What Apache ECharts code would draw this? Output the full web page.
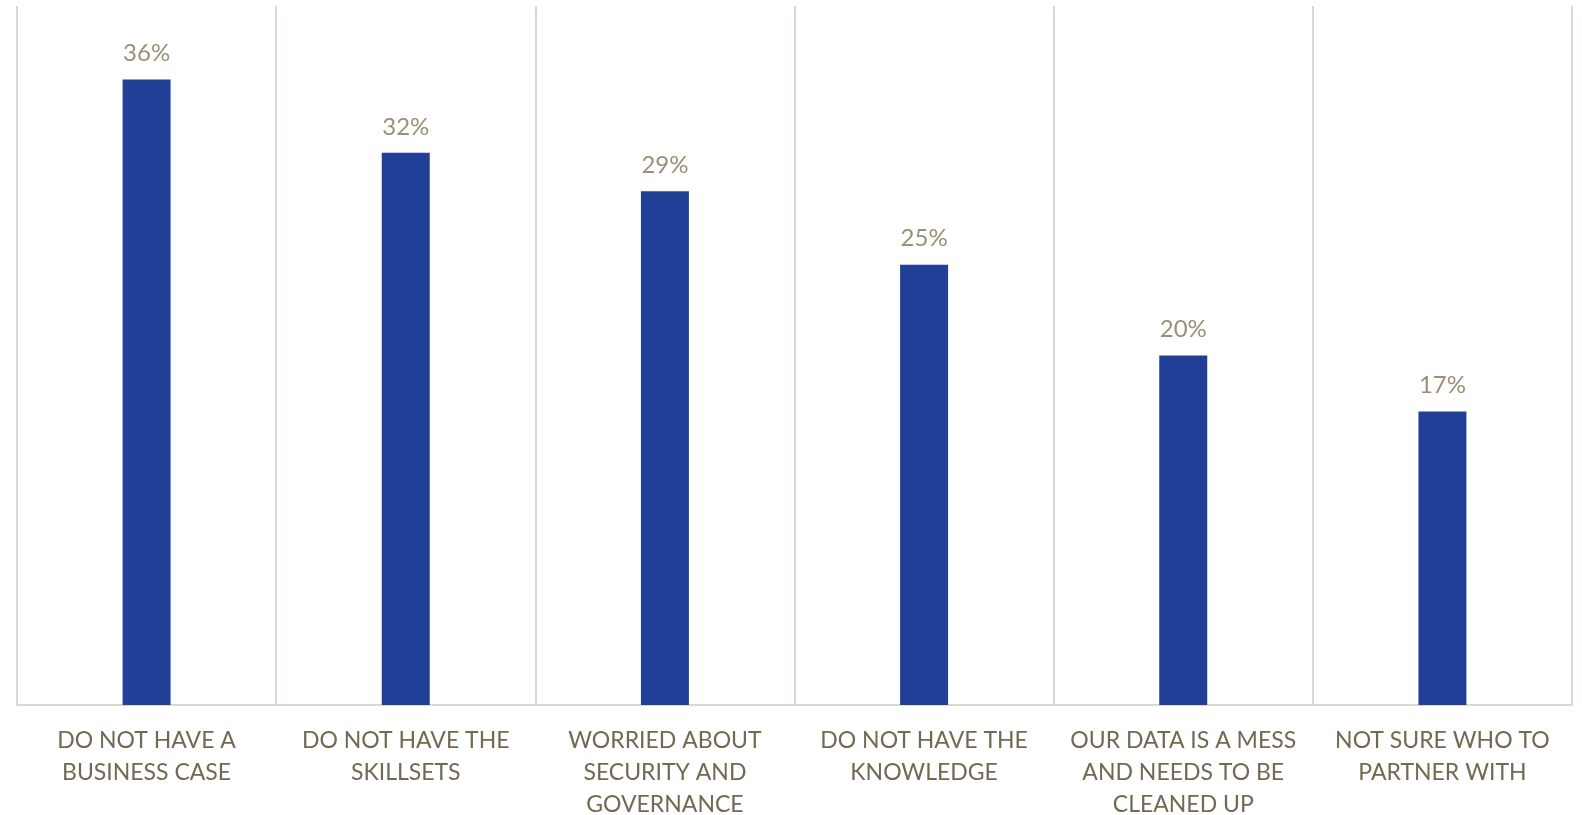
<!DOCTYPE html>
<html>
<head>
<meta charset="utf-8">
<script src="https://cdn.jsdelivr.net/npm/echarts@6/dist/echarts.min.js"></script>
<style>
html,body{margin:0;padding:0;background:#fff;}
#chart{width:1582px;height:815px;}
</style>
</head>
<body>
<div id="chart"></div>
<script>
const categories = [
  "DO NOT HAVE A\nBUSINESS CASE",
  "DO NOT HAVE THE\nSKILLSETS",
  "WORRIED ABOUT\nSECURITY AND\nGOVERNANCE",
  "DO NOT HAVE THE\nKNOWLEDGE",
  "OUR DATA IS A MESS\nAND NEEDS TO BE\nCLEANED UP",
  "NOT SURE WHO TO\nPARTNER WITH"
];
const values = [35.8, 31.6, 29.4, 25.2, 20.0, 16.8];

const FONT = "Lato, 'Open Sans', sans-serif";
const chart = echarts.init(document.getElementById('chart'), null, {renderer: 'canvas'});
chart.setOption({
  animation: false,
  backgroundColor: '#ffffff',
  grid: {left: 17, right: 10, top: 6, bottom: 110, containLabel: false, outerBoundsMode: 'none'},
  xAxis: {
    type: 'category',
    data: categories,
    boundaryGap: true,
    axisLine: {show: true, lineStyle: {color: '#dcd8cf', width: 2}},
    axisTick: {show: false},
    splitLine: {show: true, interval: 0, lineStyle: {color: '#dcd8cf', width: 2}},
    axisLabel: {
      interval: 0,
      color: '#736852',
      fontFamily: FONT,
      fontSize: 23,
      lineHeight: 32,
      margin: 20
    }
  },
  yAxis: {
    type: 'value',
    min: 0,
    max: 40,
    show: false,
    splitLine: {show: false}
  },
  series: [{
    type: 'bar',
    data: values,
    barWidth: 48,
    itemStyle: {color: '#223f98'},
    label: {
      show: true,
      position: 'top',
      distance: 14,
      color: '#9c8f75',
      fontFamily: FONT,
      fontSize: 24,
      formatter: p => Math.round(p.value) + '%'
    }
  }]
});
</script>
</body>
</html>
